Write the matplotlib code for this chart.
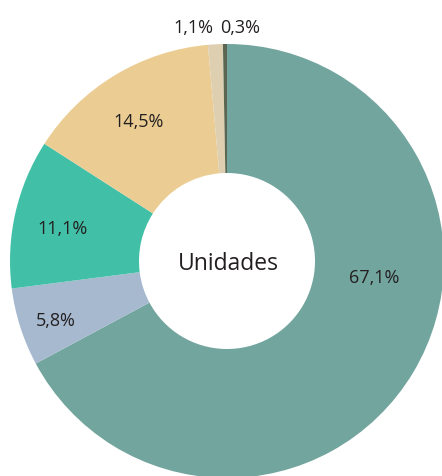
import matplotlib.pyplot as plt

categories = ['A', 'B', 'C', 'D', 'E', 'F']
values = [67.1, 5.8, 11.1, 14.5, 1.1, 0.3]
labels = ['67,1%', '5,8%', '11,1%', '14,5%', '1,1%', '0,3%']
colors = ['#73a59f', '#a6b9cf', '#42c0a7', '#ebcd93', '#ddcfb0', '#5a6650']

# label positions in pixel coords (x, y from top)
label_xy = [(374, 278), (56, 321), (63, 229), (139, 122), (193, 28), (240, 28)]

W, H = 442, 476
cx, cy = 227, 261
r_out, r_in = 217, 88

fig = plt.figure(figsize=(W / 100, H / 100), dpi=100)
ax = fig.add_axes([0, 0, 1, 1])

ax.pie(values, colors=colors, startangle=90, counterclock=False,
       center=(cx, H - cy), radius=r_out,
       wedgeprops=dict(width=r_out - r_in, linewidth=0))
ax.set_xlim(0, W)
ax.set_ylim(0, H)
ax.axis('off')

font = ['Open Sans', 'DejaVu Sans']
for lab, (x, y) in zip(labels, label_xy):
    ax.text(x, H - y, lab, ha='center', va='center', fontsize=13,
            color='#231f20', family=font)

ax.text(cx + 1, H - 264, 'Unidades', ha='center', va='center', fontsize=16.5,
        color='#231f20', family=font)

fig.savefig('out.png', dpi=100)
